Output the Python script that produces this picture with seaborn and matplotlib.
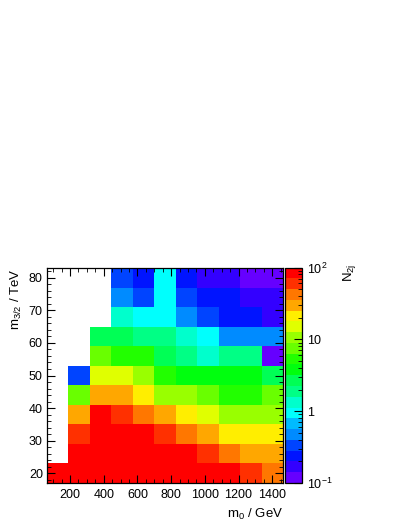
import numpy as np
import pandas as pd
import matplotlib
matplotlib.use("Agg")
import matplotlib.pyplot as plt
import seaborn as sns
from matplotlib.colors import ListedColormap, LogNorm
from matplotlib.ticker import FixedLocator, NullFormatter, LogLocator

# bin centres
m0 = [127, 255, 382, 509, 636, 764, 891, 1018, 1145, 1273, 1400]   # GeV
m32 = [20, 26, 32, 38, 44, 50, 56, 62, 68, 74, 80]                  # TeV
nan = np.nan

# N_2j per m3/2 row (bottom to top), one entry per m0 bin
n2j = [
    [90, 90, 90, 90, 90, 90, 90, 90, 90, 60, 42],          # 20
    [nan, 90, 90, 90, 90, 90, 90, 60, 42, 30, 30],         # 26
    [nan, 60, 90, 90, 90, 60, 42, 30, 21, 21, 21],         # 32
    [nan, 30, 90, 60, 42, 30, 21, 15, 11, 11, 11],         # 38
    [nan, 7.5, 30, 30, 21, 11, 11, 7.5, 5.3, 5.3, 7.5],    # 44
    [nan, 0.34, 15, 15, 11, 5.3, 3.8, 3.8, 3.8, 3.8, 2.7],  # 50
    [nan, nan, 7.5, 5.3, 5.3, 2.7, 1.9, 1.3, 1.9, 1.9, 0.12],  # 56
    [nan, nan, 2.7, 2.7, 1.9, 1.9, 1.3, 0.94, 0.47, 0.47, 0.47],  # 62
    [nan, nan, nan, 1.3, 0.94, 0.94, 0.47, 0.34, 0.24, 0.24, 0.17],  # 68
    [nan, nan, nan, 0.47, 0.34, 0.94, 0.34, 0.24, 0.24, 0.17, 0.17],  # 74
    [nan, nan, nan, 0.34, 0.24, 0.94, 0.24, 0.17, 0.17, 0.12, 0.12],  # 80
]

# ROOT pretty palette, 20 contour levels (violet -> red)
palette = ["#6600FF", "#3300FF", "#0014FF", "#0044FF", "#008BFF",
           "#00BBFF", "#00FFFD", "#00FFCC", "#00FF85", "#00FF55",
           "#00FF0E", "#22FF00", "#69FF00", "#99FF00", "#E0FF00",
           "#FFEE00", "#FFA700", "#FF7700", "#FF3000", "#FF0000"]
cmap = ListedColormap(palette)
cmap.set_bad("white")

plt.rcParams['font.family'] = ['Liberation Sans', 'DejaVu Sans']
plt.rcParams['mathtext.fontset'] = 'custom'
plt.rcParams['mathtext.rm'] = 'Liberation Sans'
plt.rcParams['mathtext.it'] = 'Liberation Sans:italic'

df = pd.DataFrame(n2j, index=m32, columns=m0).iloc[::-1]

W, H = 407, 527
fig = plt.figure(figsize=(W / 100, H / 100), dpi=100)
ax = fig.add_axes([47 / W, 44 / H, 236 / W, 215 / H])
cax = fig.add_axes([284.5 / W, 44 / H, 17 / W, 215.5 / H])

sns.heatmap(df, ax=ax, cbar_ax=cax, cmap=cmap, norm=LogNorm(0.1, 100),
            xticklabels=False, yticklabels=False, linewidths=0)

# axis mapping (bins are equal width)
x_lo, x_w = 63.64, 127.27
y_hi, y_w = 83.0, 6.0
def xpos(v):
    return (v - x_lo) / x_w
def ypos(v):
    return (y_hi - v) / y_w

for s in ax.spines.values():
    s.set_visible(True)
    s.set_linewidth(0.9)
    s.set_color("black")

xmaj = [200, 400, 600, 800, 1000, 1200, 1400]
ax.xaxis.set_major_locator(FixedLocator([xpos(v) for v in xmaj]))
ax.set_xticklabels([str(v) for v in xmaj])
ax.xaxis.set_minor_locator(FixedLocator([xpos(v) for v in range(100, 1460, 50)]))
ymaj = [20, 30, 40, 50, 60, 70, 80]
ax.yaxis.set_major_locator(FixedLocator([ypos(v) for v in ymaj]))
ax.set_yticklabels([str(v) for v in ymaj], rotation=0)
ax.yaxis.set_minor_locator(FixedLocator([ypos(v) for v in range(18, 84, 2)]))
ax.tick_params(which='both', direction='in', top=True, right=True,
               labelsize=9, color='black')
ax.tick_params(axis='x', which='major', length=6, pad=4)
ax.tick_params(axis='y', which='major', length=6, pad=3)
ax.tick_params(which='minor', length=3)
ax.set_xlabel("")
ax.set_ylabel("")

cb = ax.collections[0].colorbar
cb.outline.set_linewidth(0.9)
cb.outline.set_edgecolor("black")
cb.set_ticks([0.1, 1, 10, 100])
cb.set_ticklabels(["$10^{-1}$", "1", "10", "$10^{2}$"])
cax.yaxis.set_minor_locator(LogLocator(base=10, subs=np.arange(2, 10)))
cax.yaxis.set_minor_formatter(NullFormatter())
cax.tick_params(which='both', direction='in', right=True, left=False,
                labelsize=9, color='black')
cax.tick_params(which='major', length=6, pad=4)
cax.tick_params(which='minor', length=3)

fig.text(16 / W, 1 - 268 / H, "m$_{3/2}$ / TeV", rotation=90,
         ha='center', va='top', fontsize=9.5)
fig.text(283 / W, 1 - 514 / H, "m$_{0}$ / GeV", ha='right', va='center',
         fontsize=9.5)
fig.text(349 / W, 1 - 264 / H, r"N$_{\mathrm{2j}}$", rotation=90,
         ha='center', va='top', fontsize=9.5)

fig.savefig("out.png", dpi=100)
